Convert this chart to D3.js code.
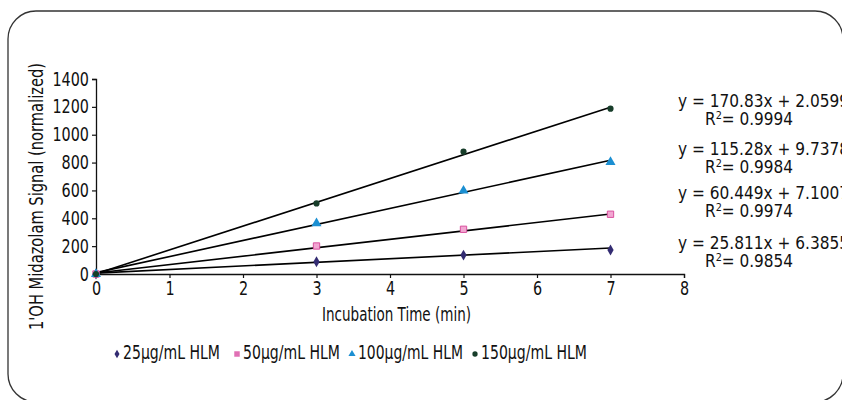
<!DOCTYPE html>
<html>
<head>
<meta charset="utf-8">
<script src="https://cdn.jsdelivr.net/npm/d3@7"></script>
<style>
  body { margin: 0; background: #fff; }
  text { font-family: "DejaVu Sans Condensed", "Liberation Sans Narrow", "Roboto", sans-serif; fill: #111; }
</style>
</head>
<body>
<svg id="chart" width="842" height="400"></svg>
<script>
// time points (min)
const times = [0, 3, 5, 7];
const seriesNames = ["25µg/mL HLM", "50µg/mL HLM", "100µg/mL HLM", "150µg/mL HLM"];
// normalized 1'OH midazolam signal
const hlm25 = [0, 88, 136, 172];
const hlm50 = [0, 201, 321, 429];
const hlm100 = [0, 364, 598, 803];
const hlm150 = [0, 507, 878, 1187];
// fitted lines shown next to the chart
const slopes = [25.811, 60.449, 115.28, 170.83];
const intercepts = [6.3855, 7.1007, 9.7378, 2.0599];
const r2 = ["0.9854", "0.9974", "0.9984", "0.9994"];
const xTicks = [0, 1, 2, 3, 4, 5, 6, 7, 8];
const yTicks = [0, 200, 400, 600, 800, 1000, 1200, 1400];

const values = [hlm25, hlm50, hlm100, hlm150];
const colors = ["#332c72", "#d9519e", "#1b8fd2", "#173d2a"];
const shapes = [d3.symbolDiamond, d3.symbolSquare, d3.symbolTriangle, d3.symbolCircle];
const sizes = [34, 40, 44, 30];

const svg = d3.select("#chart");

// squeeze text horizontally so it looks like the condensed face in the original
function squeeze(sel, target) {
  sel.attr("textLength", target).attr("lengthAdjust", "spacingAndGlyphs");
}
function squeezeBy(sel, ratio) {
  sel.each(function () {
    const w = this.getComputedTextLength();
    d3.select(this).attr("textLength", w * ratio).attr("lengthAdjust", "spacingAndGlyphs");
  });
}

// rounded frame
svg.append("rect")
  .attr("x", 8).attr("y", 11)
  .attr("width", 835).attr("height", 391)
  .attr("rx", 28).attr("ry", 28)
  .attr("fill", "none")
  .attr("stroke", "#333")
  .attr("stroke-width", 1.3);

const x = d3.scaleLinear().domain([0, 8]).range([96, 684]);
const y = d3.scaleLinear().domain([0, 1400]).range([274, 79]);

const xAxis = svg.append("g")
  .attr("transform", `translate(0,${y(0)})`)
  .call(d3.axisBottom(x).tickValues(xTicks).tickSize(4).tickPadding(4).tickFormat(d3.format("d")));
const yAxis = svg.append("g")
  .attr("transform", `translate(${x(0)},0)`)
  .call(d3.axisLeft(y).tickValues(yTicks).tickSize(4).tickPadding(3).tickFormat(d3.format("d")));

[xAxis, yAxis].forEach(a => {
  a.select(".domain").attr("stroke", "#111").attr("stroke-width", 1.3);
  a.selectAll(".tick line").attr("stroke", "#111").attr("stroke-width", 1.2);
  a.selectAll(".tick text").attr("font-size", 19).attr("fill", "#111")
    .style("font-family", '"DejaVu Sans Condensed", "Liberation Sans Narrow", sans-serif');
  squeezeBy(a.selectAll(".tick text"), 0.84);
});

svg.append("text")
  .attr("x", 396.5).attr("y", 321)
  .attr("text-anchor", "middle")
  .attr("font-size", 19)
  .text("Incubation Time (min)")
  .call(squeeze, 149);

svg.append("text")
  .attr("transform", "translate(43,196.5) rotate(-90)")
  .attr("text-anchor", "middle")
  .attr("font-size", 19)
  .text("1'OH Midazolam Signal (normalized)")
  .call(squeeze, 267);

// trend lines
const lineGen = d3.line().x(d => x(d[0])).y(d => y(d[1]));
slopes.forEach((m, i) => {
  svg.append("path")
    .attr("d", lineGen([[0, intercepts[i]], [7, m * 7 + intercepts[i]]]))
    .attr("fill", "none")
    .attr("stroke", "#000")
    .attr("stroke-width", 1.6);
});

// markers
values.forEach((vals, i) => {
  svg.append("g").selectAll("path")
    .data(vals)
    .join("path")
    .attr("transform", (d, j) => `translate(${x(times[j])},${y(d)})`)
    .attr("d", d3.symbol().type(shapes[i]).size(sizes[i]))
    .attr("fill", i === 1 ? "#f2a6d2" : colors[i])
    .attr("stroke", i === 1 ? colors[i] : "none")
    .attr("stroke-width", 1);
});

// equations (top to bottom: highest series first)
const eqY = [106.5, 154.5, 198.5, 248.5];
[3, 2, 1, 0].forEach((s, k) => {
  svg.append("text")
    .attr("x", 678).attr("y", eqY[k])
    .attr("font-size", 17.5)
    .text(`y = ${slopes[s]}x + ${intercepts[s]}`)
    .call(squeeze, 171);
  const t = svg.append("text")
    .attr("x", 705).attr("y", eqY[k] + 18)
    .attr("font-size", 17.5);
  t.append("tspan").text("R");
  t.append("tspan").attr("dy", -6).attr("font-size", 11).text("2");
  t.append("tspan").attr("dy", 6).text("= " + r2[s]);
  squeeze(t, 88);
});

// legend
const legendX = [117, 237, 352, 475];
const legendW = [97, 97, 105, 106];
seriesNames.forEach((name, i) => {
  svg.append("path")
    .attr("transform", `translate(${legendX[i]},354)`)
    .attr("d", d3.symbol().type(shapes[i]).size(i === 1 ? 30 : 22))
    .attr("fill", i === 1 ? "#e070b4" : colors[i]);
  svg.append("text")
    .attr("x", legendX[i] + 6).attr("y", 359)
    .attr("font-size", 19)
    .text(name)
    .call(squeeze, legendW[i]);
});
</script>
</body>
</html>
